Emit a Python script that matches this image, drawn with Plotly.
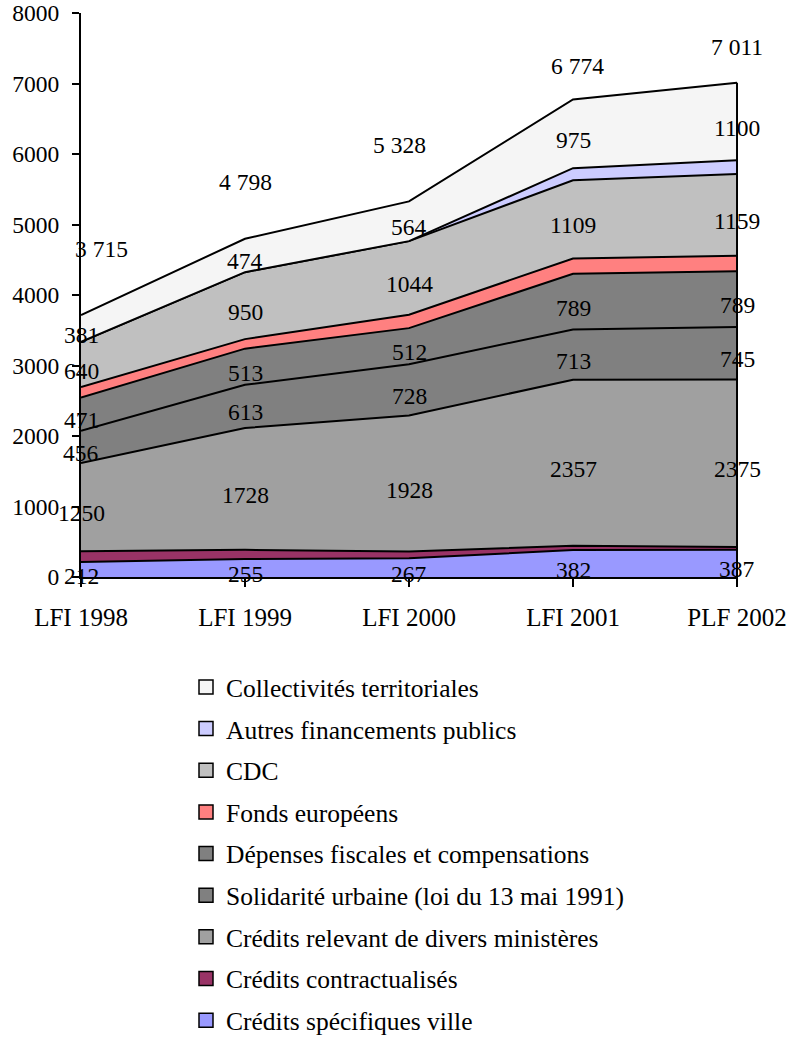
import plotly.graph_objects as go

categories = ["LFI 1998", "LFI 1999", "LFI 2000", "LFI 2001", "PLF 2002"]

ville = [212, 255, 267, 382, 387]
contractualises = [155, 130, 95, 60, 40]
divers = [1250, 1728, 1928, 2357, 2375]
solidarite = [456, 613, 728, 713, 745]
depenses = [471, 513, 512, 789, 789]
fonds = [150, 135, 190, 217, 220]
cdc = [640, 950, 1044, 1109, 1159]
autres = [0, 0, 0, 172, 196]
collectivites = [381, 474, 564, 975, 1100]
totals = [3715, 4798, 5328, 6774, 7011]

y_ticks = [0, 1000, 2000, 3000, 4000, 5000, 6000, 7000, 8000]

# series: (name, values, color, show value labels)
series = [
    ("Crédits spécifiques ville", ville, "#9999FF", True),
    ("Crédits contractualisés", contractualises, "#993366", False),
    ("Crédits relevant de divers ministères", divers, "#A0A0A0", True),
    ("Solidarité urbaine (loi du 13 mai 1991)", solidarite, "#808080", True),
    ("Dépenses fiscales et compensations", depenses, "#808080", True),
    ("Fonds européens", fonds, "#FF8080", False),
    ("CDC", cdc, "#C0C0C0", True),
    ("Autres financements publics", autres, "#CCCCFF", False),
    ("Collectivités territoriales", collectivites, "#F5F5F5", True),
]

# styling for the total labels (pixel offsets)
total_dy = [66, 57, 56, 33, 36]
total_dx = [20, 0, -10, 4, 0]

FONT = "Liberation Serif, Times New Roman, serif"
FS_LABEL = 23.5
FS_LEGEND = 25.5
FS_CAT = 25

W, H = 791, 1037
ML, MR, MT = 81, 53, 13
PLOT_H = 564

xs = list(range(len(categories)))
fig = go.Figure()

cum = [0] * len(categories)
annotations = []
for name, vals, color, lab in series:
    fig.add_trace(go.Scatter(
        x=xs, y=vals, stackgroup="one", mode="lines",
        line=dict(color="black", width=2), fillcolor=color,
        name=name, showlegend=False, hoverinfo="skip"))
    if lab:
        for i, v in enumerate(vals):
            annotations.append(dict(
                x=xs[i], y=cum[i] + v / 2, text=str(v), showarrow=False,
                xref="x", yref="y", yshift=-6,
                font=dict(family=FONT, size=FS_LABEL, color="black")))
    cum = [c + v for c, v in zip(cum, vals)]

for i, t in enumerate(totals):
    annotations.append(dict(
        x=xs[i], y=t, text=f"{t:,}".replace(",", " "), showarrow=False,
        xref="x", yref="y", yshift=total_dy[i], xshift=total_dx[i],
        font=dict(family=FONT, size=FS_LABEL, color="black")))

# right-hand edge of the stacked area
fig.add_trace(go.Scatter(
    x=[xs[-1], xs[-1]], y=[0, totals[-1]], mode="lines",
    line=dict(color="black", width=2), showlegend=False, hoverinfo="skip"))

# legend entries (top to bottom)
for k, (name, vals, color, lab) in enumerate(reversed(series)):
    fig.add_trace(go.Scatter(
        x=[None], y=[None], mode="markers", name=name,
        legendgroup=f"g{k}",
        marker=dict(symbol="square", size=14, color=color,
                    line=dict(color="black", width=1.5))))

fig.update_layout(
    width=W, height=H,
    margin=dict(l=ML, r=MR, t=MT, b=H - MT - PLOT_H, autoexpand=False),
    paper_bgcolor="white", plot_bgcolor="white",
    font=dict(family=FONT, size=FS_LABEL, color="black"),
    annotations=annotations,
    showlegend=True,
    hovermode=False,
    legend=dict(
        x=(186 - ML) / (W - ML - MR), xanchor="left",
        y=-0.154, yanchor="top",
        traceorder="grouped", tracegroupgap=5.5,
        font=dict(family=FONT, size=FS_LEGEND, color="black"),
        bgcolor="rgba(0,0,0,0)"),
    xaxis=dict(
        range=[0, 4.006], tickmode="array", tickvals=xs, ticktext=categories,
        showline=True, linecolor="black", linewidth=2,
        ticks="outside", ticklen=8, tickcolor="black", tickwidth=2,
        showgrid=False, zeroline=False, ticklabelstandoff=9,
        automargin=False, ticklabeloverflow="allow",
        tickfont=dict(family=FONT, size=FS_CAT, color="black")),
    yaxis=dict(
        range=[0, 8000], tickmode="array", tickvals=y_ticks,
        tickformat="d",
        showline=True, linecolor="black", linewidth=2,
        ticks="outside", ticklen=7, tickcolor="black", tickwidth=2,
        showgrid=False, zeroline=False, ticklabelstandoff=8,
        automargin=False, ticklabeloverflow="allow",
        tickfont=dict(family=FONT, size=FS_LABEL, color="black")),
)

fig.write_html("out.html",
               config={"displayModeBar": False},
               post_script="document.body.style.margin='0px';")
